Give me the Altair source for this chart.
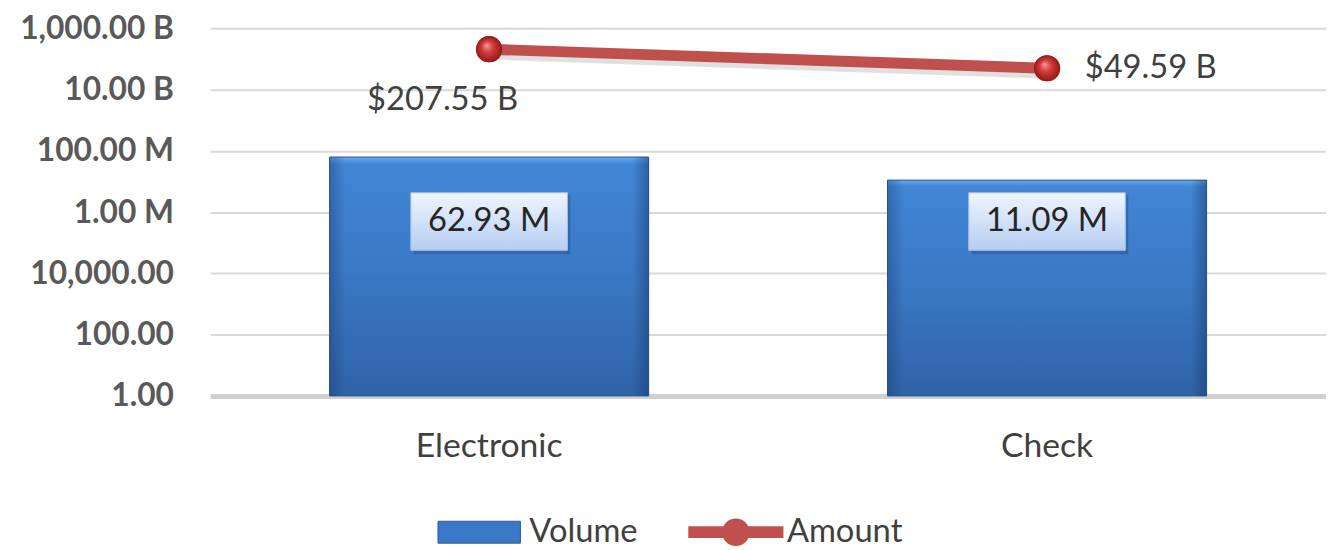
import altair as alt
import pandas as pd

categories = ["Electronic", "Check"]
volume = [62.93e6, 11.09e6]
amount = [207.55e9, 49.59e9]
volume_labels = ["62.93 M", "11.09 M"]
amount_labels = ["$207.55 B", "$49.59 B"]
y_ticks = [1, 1e2, 1e4, 1e6, 1e8, 1e10, 1e12]

df = pd.DataFrame({
    "category": categories,
    "volume": volume,
    "amount": amount,
    "vlabel": volume_labels,
    "alabel": amount_labels,
    "vser": ["Volume"] * len(categories),
    "aser": ["Amount"] * len(categories),
})

FONT = "Lato"
TXT = "#404040"

yscale = alt.Scale(type="log", domain=[1, 1e12])
yaxis = alt.Axis(
    values=y_ticks,
    labelExpr="datum.value >= 1e9 ? format(datum.value/1e9, ',.2f') + ' B' : "
              "datum.value >= 1e6 ? format(datum.value/1e6, ',.2f') + ' M' : format(datum.value, ',.2f')",
    title=None, labelFont=FONT, labelFontSize=32, labelFontWeight="bold",
    labelColor="#595959", ticks=False, domain=False,
    gridColor={"condition": {"test": "datum.value === 1", "value": "#d0d0d0"}, "value": "#d9d9d9"},
    gridWidth={"condition": {"test": "datum.value === 1", "value": 5}, "value": 2},
    minExtent=204, maxExtent=204, labelPadding=37,
)


def Y(field):
    return alt.Y(field, scale=yscale, axis=yaxis)


X = alt.X(
    "category:N", sort=categories,
    scale=alt.Scale(paddingInner=0.4, paddingOuter=0.2, range=[0, 1126]),
    axis=alt.Axis(title=None, labelFont=FONT, labelFontSize=34, labelColor=TXT,
                  labelPadding=34, ticks=False, domain=False, labelAngle=0, grid=False),
)

base = alt.Chart(df)

bar_grad = alt.LinearGradient(
    gradient="linear", x1=0, x2=0, y1=0, y2=1,
    stops=[alt.GradientStop(offset=0, color="#6aa8ee"),
           alt.GradientStop(offset=0.03, color="#4186d5"),
           alt.GradientStop(offset=0.45, color="#3b79c6"),
           alt.GradientStop(offset=1, color="#3063a8")],
)
side_grad = alt.LinearGradient(
    gradient="linear", x1=0, x2=1, y1=0, y2=0,
    stops=[alt.GradientStop(offset=0, color="rgba(20,50,100,0.35)"),
           alt.GradientStop(offset=0.05, color="rgba(20,50,100,0)"),
           alt.GradientStop(offset=0.95, color="rgba(20,50,100,0)"),
           alt.GradientStop(offset=1, color="rgba(20,50,100,0.45)")],
)
box_grad = alt.LinearGradient(
    gradient="linear", x1=0, x2=0, y1=0, y2=1,
    stops=[alt.GradientStop(offset=0, color="#f0f5fe"),
           alt.GradientStop(offset=1, color="#b6cdf3")],
)
pt_grad = alt.RadialGradient(
    gradient="radial", x1=0.4, y1=0.35, r1=0, x2=0.5, y2=0.5, r2=0.5,
    stops=[alt.GradientStop(offset=0, color="#f59a9a"),
           alt.GradientStop(offset=0.45, color="#d23b3b"),
           alt.GradientStop(offset=1, color="#941818")],
)

bars_flat = base.mark_bar(size=322).encode(
    x=X, y=Y("volume:Q"), y2=alt.datum(1),
    color=alt.Color("vser:N", scale=alt.Scale(domain=["Volume"], range=["#3b79c6"]),
                    legend=alt.Legend(
                        orient="none", legendX=255, legendY=492, title=None,
                        symbolType="M-2.6,-0.69H2.6V0.69H-2.6Z", symbolSize=1024,
                        symbolStrokeColor="#2a5a96", symbolStrokeWidth=1,
                        labelFont=FONT, labelFontSize=33, labelColor=TXT,
                        labelOffset=34, padding=0)),
)
bars = base.mark_bar(size=322, color=bar_grad, stroke="#2a5a96", strokeWidth=1).encode(
    x=X, y=Y("volume:Q"), y2=alt.datum(1))
bars_side = base.mark_bar(size=322, color=side_grad).encode(
    x=X, y=Y("volume:Q"), y2=alt.datum(1))

box_shadow = base.mark_bar(width=158, color="#1a3a6a", opacity=0.3, xOffset=3).encode(
    x=X, y=alt.value(168), y2=alt.value(228))
box = base.mark_bar(width=158, color=box_grad, stroke="#a9c1e8", strokeWidth=1).encode(
    x=X, y=alt.value(166), y2=alt.value(224))
box_text = base.mark_text(font=FONT, fontSize=33, color="#262626", baseline="middle").encode(
    x=X, y=alt.value(195), text="vlabel:N")

line_shadow = base.mark_line(color="#000000", opacity=0.12, strokeWidth=11, yOffset=5).encode(
    x=X, y=Y("amount:Q"))
line = base.mark_line(color="#c0504d", strokeWidth=11).encode(x=X, y=Y("amount:Q"))

pts_flat = base.mark_circle(size=700, opacity=1).encode(
    x=X, y=Y("amount:Q"),
    color=alt.Color("aser:N", scale=alt.Scale(domain=["Amount"], range=["#c0504d"]),
                    legend=alt.Legend(
                        orient="none", legendX=514, legendY=492, title=None,
                        symbolType="M-3,-0.37H3V0.37H-3Z M0.87,0A0.87,0.87 0 1,1 -0.87,0A0.87,0.87 0 1,1 0.87,0Z",
                        symbolSize=1024, symbolStrokeWidth=0, symbolOpacity=1,
                        labelFont=FONT, labelFontSize=33, labelColor=TXT,
                        labelOffset=35, padding=0)),
)
pts = base.mark_circle(size=700, opacity=1, color=pt_grad).encode(x=X, y=Y("amount:Q"))

lab_e = base.transform_filter(alt.datum.category == "Electronic").mark_text(
    font=FONT, fontSize=33, color=TXT, align="center", baseline="middle", dx=-47, dy=51
).encode(x=X, y=Y("amount:Q"), text="alabel:N")
lab_c = base.transform_filter(alt.datum.category == "Check").mark_text(
    font=FONT, fontSize=33, color=TXT, align="left", baseline="middle", dx=38, dy=0
).encode(x=X, y=Y("amount:Q"), text="alabel:N")

chart = alt.layer(
    bars_flat, bars, bars_side, box_shadow, box, box_text,
    line_shadow, line, pts_flat, pts, lab_e, lab_c,
).resolve_scale(color="independent").resolve_legend(color="independent").properties(
    width=1114, height=371,
    padding={"left": 0, "top": 2, "right": 0, "bottom": 0},
    background="white",
).configure_view(stroke=None)

chart.save("out.html", embed_options={"renderer": "svg", "actions": False})
